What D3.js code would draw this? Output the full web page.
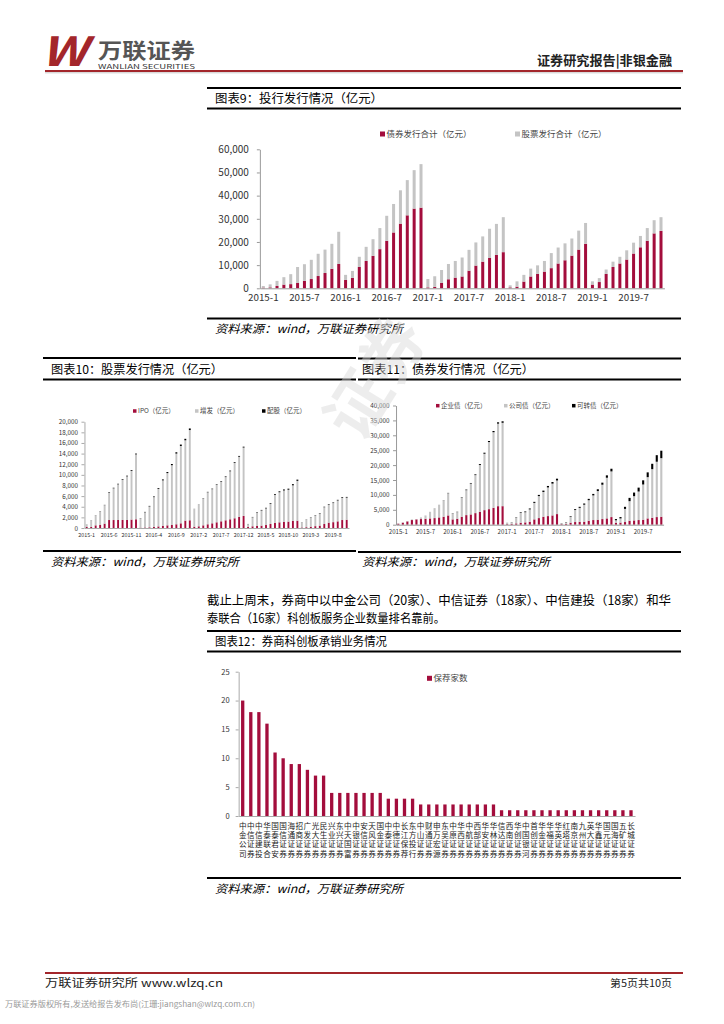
<!DOCTYPE html>
<html>
<head>
<meta charset="utf-8">
<script src="https://cdn.jsdelivr.net/npm/d3@7"></script>
<style>
  body { margin: 0; background: #fff; }
  svg { display: block; }
  text { font-family: "Noto Sans CJK SC", "Noto Sans", sans-serif; }
</style>
</head>
<body>
<div id="wrapper"></div>
<script>
// ---------- data ----------
// months 2015-1 .. 2019-11 (categories)
const months = []
for (let yr = 2015; yr <= 2019; yr++) {
    for (let m = 1; m <= 12; m++) {
        if (yr === 2019 && m > 11) break
        months.push(`${yr}-${m}`)
    }
}

// chart 9: year-to-date issuance (亿元)
const bondYtd = [
    300, 400, 1000, 1600, 1800, 2300, 3200, 4000, 5300, 6600, 8400, 10500,
    3600, 4500, 9200, 11800, 14000, 16900, 20500, 24100, 27900, 31500, 34400, 34800,
    400, 600, 2300, 3900, 4600, 5100, 7600, 9800, 11500, 13100, 14400, 15600,
    400, 700, 2900, 5100, 6200, 7200, 8700, 10700, 12100, 14100, 16700, 19200,
    1600, 2700, 6200, 9200, 10700, 12400, 15000, 17700, 20500, 23700, 24800
]
const stockYtd = [
    700, 1300, 2200, 3200, 4300, 6900, 7200, 8300, 9600, 10100, 10800, 13900,
    2200, 3000, 4400, 6100, 7200, 9100, 10800, 12300, 14400, 15200, 16600, 18800,
    3600, 4600, 5600, 6600, 7200, 8200, 9000, 10000, 10900, 12600, 13400, 15100,
    900, 2300, 2900, 3400, 3700, 4600, 6500, 6900, 7300, 7400, 8200, 9000,
    1400, 1700, 1900, 2300, 2900, 4000, 4700, 4900, 5500, 5700, 5900
]

// chart 10: stock issuance (亿元)
const ipoYtd = [
    200, 200, 500, 570, 820, 1500, 1500, 1510, 1510, 1510, 1580, 1640,
    60, 100, 130, 200, 300, 380, 500, 570, 700, 880, 1390, 1450,
    250, 320, 500, 700, 880, 1070, 1260, 1450, 1640, 1830, 2080, 2270,
    190, 320, 380, 440, 560, 760, 950, 1070, 1130, 1200, 1320, 1380,
    100, 150, 250, 350, 450, 750, 1000, 1100, 1250, 1500, 1550
]
const seoYtd = [
    400, 1220, 1870, 2530, 3480, 5150, 5970, 6710, 7570, 8210, 9170, 12210,
    1720, 2850, 3930, 5610, 7050, 8580, 9830, 11250, 13300, 14550, 15110, 16980,
    3330, 4040, 5040, 6020, 6430, 7030, 7460, 8130, 9030, 10430, 11330, 12870,
    540, 1700, 2540, 2860, 3130, 3760, 5300, 5660, 5930, 6000, 6710, 7490,
    980, 1410, 1690, 1980, 2270, 3160, 3400, 3590, 3930, 4170, 4170
]
const rightsYtd = [
    30, 30, 30, 50, 50, 100, 100, 100, 120, 120, 150, 150,
    50, 80, 100, 120, 150, 180, 200, 220, 250, 270, 280, 300,
    20, 40, 60, 80, 90, 100, 110, 120, 130, 140, 150, 160,
    30, 60, 80, 100, 110, 130, 150, 170, 190, 200, 220, 230,
    20, 40, 60, 70, 80, 90, 100, 110, 120, 130, 130
]

// chart 11: bond issuance (亿元)
const enterpriseYtd = [
    330, 670, 1100, 1560, 1780, 1890, 2000, 2100, 2220, 2440, 2670, 3110,
    1780, 2000, 2670, 3220, 3440, 3890, 4330, 4890, 5220, 5670, 6220, 6220,
    200, 300, 440, 670, 780, 1000, 1780, 2220, 2670, 2890, 3110, 3560,
    200, 300, 670, 890, 950, 1000, 1330, 1560, 1670, 1890, 2110, 2560,
    670, 700, 890, 1330, 1440, 1560, 1670, 2110, 2330, 2560, 2670
]
const corporateYtd = [
    110, 110, 120, 220, 110, 550, 1110, 2230, 3340, 4210, 5500, 7460,
    1900, 2230, 6290, 8360, 10360, 12750, 15700, 18920, 22520, 25370, 27690, 27980,
    450, 540, 2020, 3350, 3410, 4140, 5540, 7380, 8320, 9610, 10670, 11280,
    310, 490, 2020, 4030, 4700, 5710, 6890, 8270, 9620, 11520, 13650, 15320,
    820, 1410, 4410, 6570, 8140, 9580, 11820, 13850, 16310, 18570, 19660
]
const convertibleYtd = [
    0, 0, 0, 0, 0, 0, 0, 0, 0, 20, 50, 100,
    100, 100, 150, 200, 200, 250, 300, 350, 350, 400, 450, 500,
    20, 50, 100, 200, 250, 300, 350, 400, 450, 500, 550, 600,
    50, 100, 200, 300, 350, 400, 450, 500, 600, 700, 800, 900,
    400, 450, 700, 1100, 1200, 1300, 1400, 1600, 1800, 2200, 2500
]

// chart 12: STAR market sponsored companies by broker
const brokers = [
    "中金公司", "中信证券", "中信建投", "华泰联合", "国泰君安", "国信证券", "海通证券",
    "招商证券", "广发证券", "光大证券", "民生证券", "兴业证券", "东兴证券", "中天国富",
    "中银证券", "安信证券", "天风证券", "国金证券", "中泰证券", "中德证券", "长江保荐",
    "东方投行", "中山证券", "财通证券", "申万宏源", "东吴证券", "中原证券", "华西证券",
    "中航证券", "西部证券", "华安证券", "华林证券", "信达证券", "西南证券", "华创证券",
    "中国银河", "首创证券", "华金证券", "华福证券", "华英证券", "红塔证券", "南京证券",
    "九州证券", "英大证券", "华鑫证券", "国元证券", "国海证券", "五矿证券", "长城证券"
]
const sponsorCount = [
    20, 18, 18, 16, 11, 10, 9, 9, 8, 7, 7,
    4, 4, 4, 4, 4, 4, 4,
    3, 3, 3, 3,
    2, 2, 2, 2, 2, 2, 2, 2, 2, 2,
    1, 1, 1, 1, 1, 1, 1, 1, 1, 1, 1, 1, 1, 1, 1, 1, 1
]

const ticks9 = [0, 10000, 20000, 30000, 40000, 50000, 60000]
const ticks10 = [0, 2000, 4000, 6000, 8000, 10000, 12000, 14000, 16000, 18000, 20000]
const ticks11 = [0, 5000, 10000, 15000, 20000, 25000, 30000, 35000, 40000]
const ticks12 = [0, 5, 10, 15, 20, 25]

// ---------- canvas ----------
const RED = "#a30d3c"
const GREY = "#c4c4c4"
const numFont = "'Liberation Sans', Arial, sans-serif"

const svg = d3.select("#wrapper")
    .append("svg")
    .attr("width", 724)
    .attr("height", 1024)

function hline(x1, x2, y, w, color) {
    svg.append("line")
        .attr("x1", x1).attr("x2", x2)
        .attr("y1", y).attr("y2", y)
        .attr("stroke", color || "#000")
        .attr("stroke-width", w)
}

function label(x, y, txt, size, opts = {}) {
    const t = svg.append("text")
        .attr("x", x).attr("y", y)
        .attr("font-size", size)
        .attr("fill", opts.fill || "#000")
        .text(txt)
    if (opts.anchor) t.attr("text-anchor", opts.anchor)
    if (opts.weight) t.attr("font-weight", opts.weight)
    if (opts.style) t.attr("font-style", opts.style)
    if (opts.family) t.attr("font-family", opts.family)
    if (opts.len) t.attr("textLength", opts.len).attr("lengthAdjust", "spacingAndGlyphs")
    return t
}

function legendItem(x, y, color, txt, size, box) {
    svg.append("rect")
        .attr("x", x).attr("y", y - box / 2)
        .attr("width", box).attr("height", box)
        .attr("fill", color)
    label(x + box + 1.5, y + size * 0.36, txt, size, { fill: "#444" })
}

// ---------- stacked bar chart helper ----------
function stackedBars(opt) {
    const n = opt.cats.length
    const step = (opt.xLast - opt.xFirst) / (n - 1)
    const pad = 1 - opt.barW / step
    const xScale = d3.scaleBand()
        .domain(opt.cats)
        .range([opt.xFirst - step / 2, opt.xLast + step / 2])
        .paddingInner(pad)
        .paddingOuter(pad / 2)
    const yScale = d3.scaleLinear()
        .domain([0, opt.yMax])
        .range([opt.yBase, opt.yTop])

    const rows = opt.cats.map((c, i) => {
        const r = { cat: c }
        opt.series.forEach(s => r[s.key] = s.values[i])
        return r
    })
    const stacked = d3.stack().keys(opt.series.map(s => s.key))(rows)

    svg.append("g")
        .selectAll("g")
        .data(stacked)
        .join("g")
            .attr("fill", (d, i) => opt.series[i].color)
        .selectAll("rect")
        .data(d => d)
        .join("rect")
            .attr("x", d => xScale(d.data.cat))
            .attr("width", xScale.bandwidth())
            .attr("y", d => yScale(d[1]))
            .attr("height", d => yScale(d[0]) - yScale(d[1]))

    // y axis
    const yAxisGenerator = d3.axisLeft(yScale)
        .tickValues(opt.yTicks)
        .tickFormat(opt.yFormat || d3.format(","))
        .tickSizeInner(opt.tickSize)
        .tickSizeOuter(0)
        .tickPadding(opt.tickPad)
    const yAxis = svg.append("g")
        .attr("transform", `translate(${xScale.range()[0]},0)`)
        .call(yAxisGenerator)
    yAxis.select(".domain").attr("stroke", opt.axisColor)
    yAxis.selectAll(".tick line").attr("stroke", opt.axisColor)
    yAxis.selectAll("text")
        .attr("font-size", opt.yFont)
        .attr("font-family", numFont)
        .attr("fill", "#333")

    // x axis
    const xTicks = opt.every ? opt.cats.filter((c, i) => i % opt.every === 0) : []
    const xAxisGenerator = d3.axisBottom(xScale)
        .tickValues(xTicks)
        .tickSize(0)
        .tickPadding(opt.xPad)
    const xAxis = svg.append("g")
        .attr("transform", `translate(0,${opt.yBase})`)
        .call(xAxisGenerator)
    xAxis.select(".domain").attr("stroke", opt.axisColor)
    xAxis.selectAll("text")
        .attr("font-size", opt.xFont)
        .attr("font-family", numFont)
        .attr("fill", "#333")
    return xScale
}

// ---------- header ----------
label(41, 66, "W", 40, { fill: "#a3262b", weight: "bold", style: "italic", family: numFont, len: 46 })
label(98, 57.5, "万联证券", 21, { fill: "#555", weight: "bold", len: 97 })
label(98, 69, "WANLIAN SECURITIES", 6.3, { fill: "#333", family: numFont, len: 97 })
label(672, 65, "证券研究报告|非银金融", 13, { anchor: "end", weight: "bold", fill: "#222", len: 135 })
hline(45, 683, 71, 2, "#a3262b")
hline(45, 683, 72.8, 0.8, "#bbb")

// ---------- chart 9 ----------
hline(207, 681, 88, 2)
label(215, 103, "图表9：投行发行情况（亿元）", 12, { len: 168 })
hline(207, 681, 108.5, 2)
legendItem(380, 134, RED, "债券发行合计（亿元）", 8.5, 5)
legendItem(515, 134, GREY, "股票发行合计（亿元）", 8.5, 5)

stackedBars({
    cats: months, every: 6,
    series: [
        { key: "bond", values: bondYtd, color: RED },
        { key: "stock", values: stockYtd, color: GREY }
    ],
    xFirst: 263.3, xLast: 661, barW: 3,
    yBase: 288.3, yTop: 149.3, yMax: 60000, yTicks: ticks9,
    tickSize: 3, tickPad: 8, yFont: 10, xFont: 9.8, xPad: 5.5,
    axisColor: "#999"
})

hline(207, 681, 318.5, 2)
label(215, 333, "资料来源：wind，万联证券研究所", 11.5, { style: "italic", len: 188 })

// ---------- chart 10 ----------
hline(43, 356, 358, 2)
label(51, 374, "图表10：股票发行情况（亿元）", 12, { len: 172 })
hline(43, 356, 379.5, 2)
legendItem(133, 411, RED, "IPO（亿元）", 6.5, 3.5)
legendItem(195, 411, GREY, "增发（亿元）", 6.5, 3.5)
legendItem(262, 411, "#000", "配股（亿元）", 6.5, 3.5)

stackedBars({
    cats: months, every: 5,
    series: [
        { key: "ipo", values: ipoYtd, color: RED },
        { key: "seo", values: seoYtd, color: GREY },
        { key: "rights", values: rightsYtd, color: "#000" }
    ],
    xFirst: 86.7, xLast: 346.7, barW: 1.9,
    yBase: 528, yTop: 421.7, yMax: 20000, yTicks: ticks10,
    tickSize: 3, tickPad: 3.5, yFont: 6.3, xFont: 5.4, xPad: 5,
    axisColor: "#aaa"
})

hline(43, 356, 551, 2)
label(51, 566, "资料来源：wind，万联证券研究所", 11.5, { style: "italic", len: 188 })

// ---------- chart 11 ----------
hline(358, 681, 358.5, 2)
label(362, 374, "图表11：债券发行情况（亿元）", 12, { len: 172 })
hline(358, 681, 379.5, 2)
legendItem(436, 405.7, RED, "企业债（亿元）", 6.5, 3.5)
legendItem(504, 405.7, GREY, "公司债（亿元）", 6.5, 3.5)
legendItem(572, 405.7, "#000", "可转债（亿元）", 6.5, 3.5)

stackedBars({
    cats: months, every: 6,
    series: [
        { key: "ent", values: enterpriseYtd, color: RED },
        { key: "corp", values: corporateYtd, color: GREY },
        { key: "conv", values: convertibleYtd, color: "#000" }
    ],
    xFirst: 398.3, xLast: 661.3, barW: 2.1,
    yBase: 524.7, yTop: 405.5, yMax: 40000, yTicks: ticks11,
    tickSize: 3, tickPad: 3.5, yFont: 6.3, xFont: 6.1, xPad: 4.5,
    axisColor: "#999"
})

hline(358, 681, 552, 2)
label(362, 566, "资料来源：wind，万联证券研究所", 11.5, { style: "italic", len: 188 })

// ---------- paragraph ----------
label(207, 605, "截止上周末，券商中以中金公司（20家）、中信证券（18家）、中信建投（18家）和华", 12.5, { len: 464 })
label(207, 623, "泰联合（16家）科创板服务企业数量排名靠前。", 12.5, { len: 238 })

// ---------- chart 12 ----------
hline(207, 681, 631, 2)
label(215, 646, "图表12：券商科创板承销业务情况", 12, { len: 172 })
hline(207, 681, 651.5, 2)
legendItem(427, 678.3, RED, "保荐家数", 8.5, 5)

const x12 = stackedBars({
    cats: brokers, every: 0,
    series: [{ key: "cnt", values: sponsorCount, color: RED }],
    xFirst: 242.7, xLast: 631, barW: 3.3,
    yBase: 816, yTop: 671.7, yMax: 25, yTicks: ticks12, yFormat: d3.format("d"),
    tickSize: 3, tickPad: 6, yFont: 7.5, xFont: 7, xPad: 4,
    axisColor: "#aaa"
})

// vertical broker labels (one char per row)
const rowsY = [829, 838, 847, 856.5]
brokers.forEach(name => {
    name.split("").forEach((ch, j) => {
        svg.append("text")
            .attr("x", x12(name) + x12.bandwidth() / 2)
            .attr("y", rowsY[j])
            .attr("text-anchor", "middle")
            .attr("font-size", 7.6)
            .attr("fill", "#222")
            .text(ch)
    })
})

hline(207, 681, 878, 2)
label(215, 893, "资料来源：wind，万联证券研究所", 11.5, { style: "italic", len: 188 })

// ---------- watermark ----------
svg.append("text")
    .attr("transform", "translate(395,390) rotate(-58)")
    .attr("text-anchor", "middle")
    .attr("font-size", 64)
    .attr("font-weight", "bold")
    .attr("fill", "#d9d9d9")
    .attr("opacity", 0.45)
    .text("证券")

// ---------- footer ----------
hline(45, 683, 973, 2, "#a3262b")
label(45, 987, "万联证券研究所 www.wlzq.cn", 11, { fill: "#222", len: 178 })
label(672, 987, "第5页共10页", 10, { anchor: "end", fill: "#222", len: 62 })
label(5, 1007, "万联证券版权所有,发送给报告发布尚(江珊:jiangshan@wlzq.com.cn)", 7.5, { fill: "#999", len: 250 })
</script>
</body>
</html>
